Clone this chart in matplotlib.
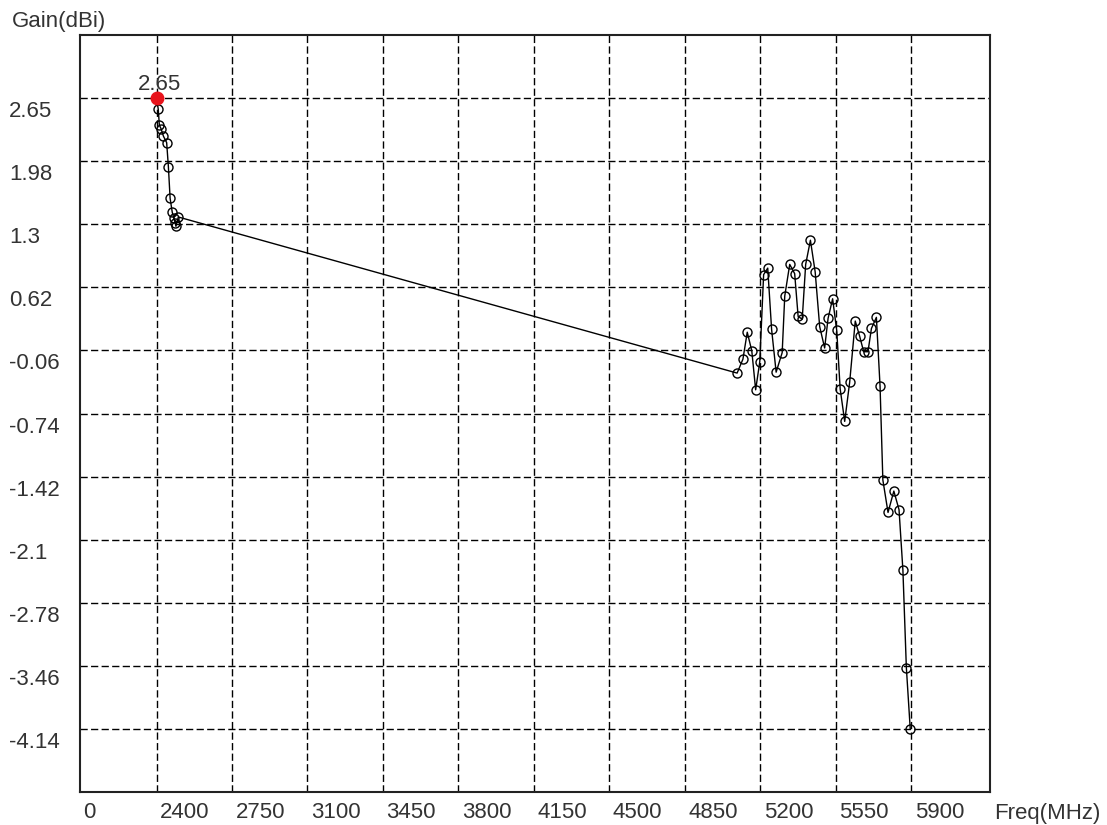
import numpy as np
import matplotlib
matplotlib.use("Agg")
import matplotlib.pyplot as plt
from matplotlib import transforms

plt.rcParams["font.family"] = ["Liberation Sans", "DejaVu Sans"]

# measured gain vs frequency
freq = [2400, 2408, 2413, 2421, 2432, 2447, 2455, 2463, 2473, 2480, 2486, 2490, 2501,
        5093, 5120, 5140, 5161, 5179, 5198, 5216, 5235, 5253, 5274, 5302, 5314,
        5337, 5360, 5376, 5395, 5411, 5433, 5455, 5476, 5499, 5515, 5536, 5555,
        5571, 5592, 5615, 5641, 5661, 5680, 5700, 5716, 5739, 5756, 5769, 5793,
        5820, 5844, 5862, 5878, 5896]
gain = [2.65, 2.53, 2.36, 2.32, 2.24, 2.17, 1.91, 1.57, 1.42, 1.36, 1.31, 1.27, 1.37,
        -0.31, -0.16, 0.13, -0.07, -0.49, -0.19, 0.75, 0.82, 0.16, -0.30, -0.09, 0.52,
        0.86, 0.76, 0.30, 0.27, 0.86, 1.12, 0.78, 0.19, -0.04, 0.28, 0.49, 0.15,
        -0.48, -0.83, -0.41, 0.25, 0.09, -0.08, -0.08, 0.17, 0.29, -0.45, -1.46, -1.81,
        -1.58, -1.78, -2.43, -3.48, -4.14]

peak_f, peak_g = 2400, 2.65

x_ticks = [2400, 2750, 3100, 3450, 3800, 4150, 4500, 4850, 5200, 5550, 5900]
x_min, x_max = 2045, 6266
y_labels = ["2.65", "1.98", "1.3", "0.62", "-0.06", "-0.74", "-1.42", "-2.1",
            "-2.78", "-3.46", "-4.14"]

W, H = 1107, 825
fig = plt.figure(figsize=(W / 100, H / 100), dpi=100)
ax = fig.add_axes([80 / W, 1 - 792 / H, (990 - 80) / W, (792 - 35) / H])

y_pos = np.linspace(2.65, -4.14, len(y_labels))
step = y_pos[0] - y_pos[1]
ax.set_xlim(x_min, x_max)
ax.set_ylim(y_pos[-1] - step, y_pos[0] + step)

grid_kw = dict(color="black", lw=1.0, ls=(0, (5.2, 2.4)), zorder=1)
for xv in x_ticks:
    ax.axvline(xv, **grid_kw)
for yv in y_pos:
    ax.axhline(yv, **grid_kw)

ax.plot(freq, gain, color="black", lw=1.0, zorder=3)
ax.plot(freq, gain, ls="none", marker="o", ms=6.5, mfc="none", mec="black",
        mew=1.0, zorder=4)
ax.plot([peak_f], [peak_g], ls="none", marker="o", ms=9, color="#e8141c", zorder=5)
ax.annotate(f"{peak_g:.2f}", (peak_f, peak_g), xytext=(2, 2.5), textcoords="offset points",
            ha="center", va="bottom", fontsize=16, color="#333333")

ax.set_xticks([])
ax.set_yticks([])
for s in ax.spines.values():
    s.set_linewidth(1.5)
    s.set_color("#222222")

txt = dict(fontsize=16, color="#333333")
# y labels, left-aligned at figure edge, just below each gridline
ytr = transforms.blended_transform_factory(fig.transFigure, ax.transData)
ytr = transforms.offset_copy(ytr, fig=fig, x=0, y=-2.2, units="points")
for yv, lab in zip(y_pos, y_labels):
    ax.text(9 / W, yv, lab, transform=ytr, ha="left", va="top", **txt)

# x labels, left-aligned just right of each gridline
xtr = transforms.blended_transform_factory(ax.transData, fig.transFigure)
xtr = transforms.offset_copy(xtr, fig=fig, x=2.5, y=0, units="points")
ax.text(x_min, 1 - 813 / H, "0", transform=xtr, ha="left", va="center", **txt)
for xv in x_ticks:
    ax.text(xv, 1 - 813 / H, str(xv), transform=xtr, ha="left", va="center", **txt)

fig.text(12 / W, 1 - 22 / H, "Gain(dBi)", ha="left", va="center", **txt)
fig.text(994 / W, 1 - 813 / H, "Freq(MHz)", ha="left", va="center", **txt)

fig.savefig("out.png", dpi=100, facecolor="white")
